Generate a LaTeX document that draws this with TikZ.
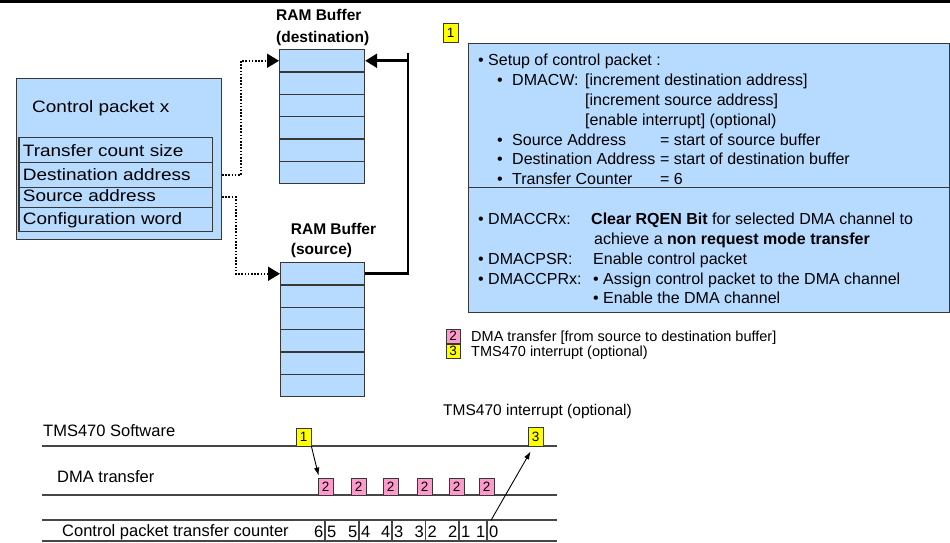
\documentclass[tikz,border=0pt]{standalone}
\usepackage{fontspec}
\setmainfont{Liberation Sans}
\usepackage{graphicx}
\usetikzlibrary{arrows.meta,calc}

\definecolor{paleblue}{RGB}{183,219,255}
\definecolor{tagpink}{RGB}{255,153,204}
\definecolor{tagyellow}{RGB}{255,255,0}
\definecolor{edgegray}{RGB}{55,55,55}
\definecolor{lanegray}{RGB}{70,70,70}

\newcommand{\fsz}[1]{\fontsize{#1}{#1}\selectfont}
\newcommand{\widetext}[1]{\scalebox{1.15}[1]{#1}}

\tikzset{
  txt/.style={anchor=base west, inner sep=0pt, font=\fsz{16}},
  txtR/.style={anchor=base east, inner sep=0pt, font=\fsz{16.5}},
  lanetxt/.style={anchor=base west, inner sep=0pt, font=\fsz{16.5}},
  pkttxt/.style={anchor=base west, inner sep=0pt, font=\fsz{16.5}},
  buftitle/.style={anchor=base west, inner sep=0pt, font=\bfseries\fsz{15.5}},
  panel/.style={draw=edgegray, fill=paleblue, line width=1.2pt, anchor=north west, inner sep=0pt},
  cell/.style={panel, minimum width=85pt, minimum height=22.33pt},
  pktrow/.style={panel, minimum width=193.7pt},
  marker/.style={draw=edgegray, line width=0.8pt, inner sep=0pt, minimum width=15pt, minimum height=18pt, font=\fsz{13.5}},
  ymarker/.style={marker, fill=tagyellow},
  pmarker/.style={marker, fill=tagpink, minimum height=17pt},
  dotlink/.style={line width=1.8pt, dash pattern=on 1.6pt off 1.6pt, -{Triangle[length=12pt,width=14pt]}},
  buslink/.style={line width=2.6pt},
  lane/.style={draw=lanegray, line width=1.1pt},
  evarrow/.style={line width=0.9pt, -{Latex[length=8pt,width=5.5pt]}},
}

\begin{document}
\begin{tikzpicture}[x=1pt, y=-1pt]
\useasboundingbox (0,0) rectangle (950,543);

% rule across the top
\draw[line width=3pt] (0,1.5) -- (950,1.5);

% ---------- control packet ----------
\node[panel, minimum width=204.7pt, minimum height=161pt] (cp) at (16,78) {};
\node[pktrow, minimum height=25pt] (r1) at (18.3,136.7) {};
\node[pktrow, minimum height=25pt] (r2) at (18.3,161.7) {};
\node[pktrow, minimum height=20pt] (r3) at (18.3,186.7) {};
\node[pktrow, minimum height=24.3pt] (r4) at (18.3,206.7) {};
\node[pkttxt] (cpname) at (32,112.7) {\widetext{Control packet x}};
\node[pkttxt] (r1t) at (22.7,156) {\widetext{Transfer count size}};
\node[pkttxt] (r2t) at (22.7,180) {\widetext{Destination address}};
\node[pkttxt] (r3t) at (22.7,201) {\widetext{Source address}};
\node[pkttxt] (r4t) at (22.7,224.3) {\widetext{Configuration word}};

% ---------- RAM buffers ----------
\node[buftitle] (dt1) at (276,20.7) {RAM Buffer};
\node[buftitle] (dt2) at (276,43) {(destination)};
\foreach \i in {1,...,6} {
  \node[cell] (d\i) at (279,{49+(\i-1)*22.33}) {};
}
\node[buftitle] (st1) at (290.7,234.5) {RAM Buffer};
\node[buftitle] (st2) at (290.7,254) {(source)};
\foreach \i in {1,...,6} {
  \node[cell, minimum width=84pt] (s\i) at (280,{262+(\i-1)*22.33}) {};
}

% address links and the copy path
\draw[dotlink] (r2.east -| cp.east) -- ++(19,0) |- (d1.west);
\draw[dotlink] (r3.east -| cp.east) -- ++(14,0) |- (s1.west);
\coordinate (rtop) at (408,53);
\draw[buslink] (s1.east) -| (rtop);
\draw[buslink, -{Triangle[length=12pt,width=14pt]}] (rtop |- d1.east) -- (d1.east);

% ---------- step 1 description ----------
\node[ymarker, minimum height=19pt] (k1) at (450.5,32.5) {1};
\node[panel, minimum width=481pt, minimum height=269pt] (info) at (468,43) {};
\coordinate (divy) at (0,187.5);
\draw[draw=edgegray, line width=1.2pt] (info.west |- divy) -- (info.east |- divy);

\node[txt] (a1) at (478,65.7) {• Setup of control packet :};
\node[txt] (a2b) at (497,85.5) {•};
\node[txt] (a2) at (512,85.5) {DMACW:};
\node[txt] (a2v) at (585,85.5) {[increment destination address]};
\node[txt] (a3v) at (585,105.3) {[increment source address]};
\node[txt] (a4v) at (585,125) {[enable interrupt] (optional)};
\node[txt] (a5b) at (497,145) {•};
\node[txt] (a5) at (512,145) {Source Address};
\node[txt] (a5v) at (660,145) {= start of source buffer};
\node[txt] (a6b) at (497,164.7) {•};
\node[txt] (a6) at (512,164.7) {Destination Address};
\node[txt] (a6v) at (660,164.7) {= start of destination buffer};
\node[txt] (a7b) at (497,184.3) {•};
\node[txt] (a7) at (512,184.3) {Transfer Counter};
\node[txt] (a7v) at (660,184.3) {= 6};

\node[txt] (b1) at (478,224.3) {• DMACCRx:};
\node[txt] (b1v) at (591,224.3) {\textbf{Clear RQEN Bit} for selected DMA channel to};
\node[txt] (b2v) at (594,244.3) {achieve a \textbf{non request mode transfer}};
\node[txt] (b3) at (478,264) {• DMACPSR:};
\node[txt] (b3v) at (593,264) {Enable control packet};
\node[txt] (b4) at (478,284) {• DMACCPRx:};
\node[txt] (b4v) at (593,284) {• Assign control packet to the DMA channel};
\node[txt] (b5v) at (593,303.5) {• Enable the DMA channel};

% legend
\node[pmarker, minimum width=14pt, minimum height=14pt] (k2) at (453,336) {2};
\node[ymarker, minimum width=14pt, minimum height=14pt] (k3) at (453,351) {3};
\node[txt, font=\fsz{14.5}] (k2t) at (471,341.7) {DMA transfer [from source to destination buffer]};
\node[txt, font=\fsz{14.5}] (k3t) at (471,356.7) {TMS470 interrupt (optional)};

% ---------- timeline ----------
\node[txt, font=\fsz{15.5}] (irq) at (443,415.7) {TMS470 interrupt (optional)};
\node[lanetxt] (sw) at (43,436.7) {TMS470 Software};
\node[lanetxt] (dma) at (57,482.3) {DMA transfer};
\node[lanetxt] (cnt) at (62,536.7) {Control packet transfer counter};

\draw[lane] (42,446) -- (557,446);
\draw[lane] (42,495) -- (557,495);
\draw[lane] (42,520) -- (557,520);
\draw[lane] (42,541) -- (557,541);

\node[ymarker] (t1) at (303.5,437) {1};
\node[ymarker, minimum height=19pt] (t3) at (535.5,436.5) {3};
\foreach \x [count=\i] in {325.5,358.5,390.5,424.5,456.5,486.5} {
  \node[pmarker] (p\i) at (\x,486.5) {2};
}

\foreach \x/\l/\r [count=\i] in {325/6/5, 359/5/4, 392/4/3, 425.5/3/2, 459/2/1, 487/1/0} {
  \draw[lane] (\x,520) -- (\x,541);
  \node[txtR] (cl\i) at ({\x-1.5},537) {\l};
  \node[lanetxt] (cr\i) at ({\x+2},537) {\r};
}

\draw[evarrow] (t1.south east) -- ($(p1.north west)+(1,-2)$);
\draw[evarrow] ($(cr6.north west)+(2,-5)$) -- ($(t3.south west)+(3,5)$);

\end{tikzpicture}
\end{document}
